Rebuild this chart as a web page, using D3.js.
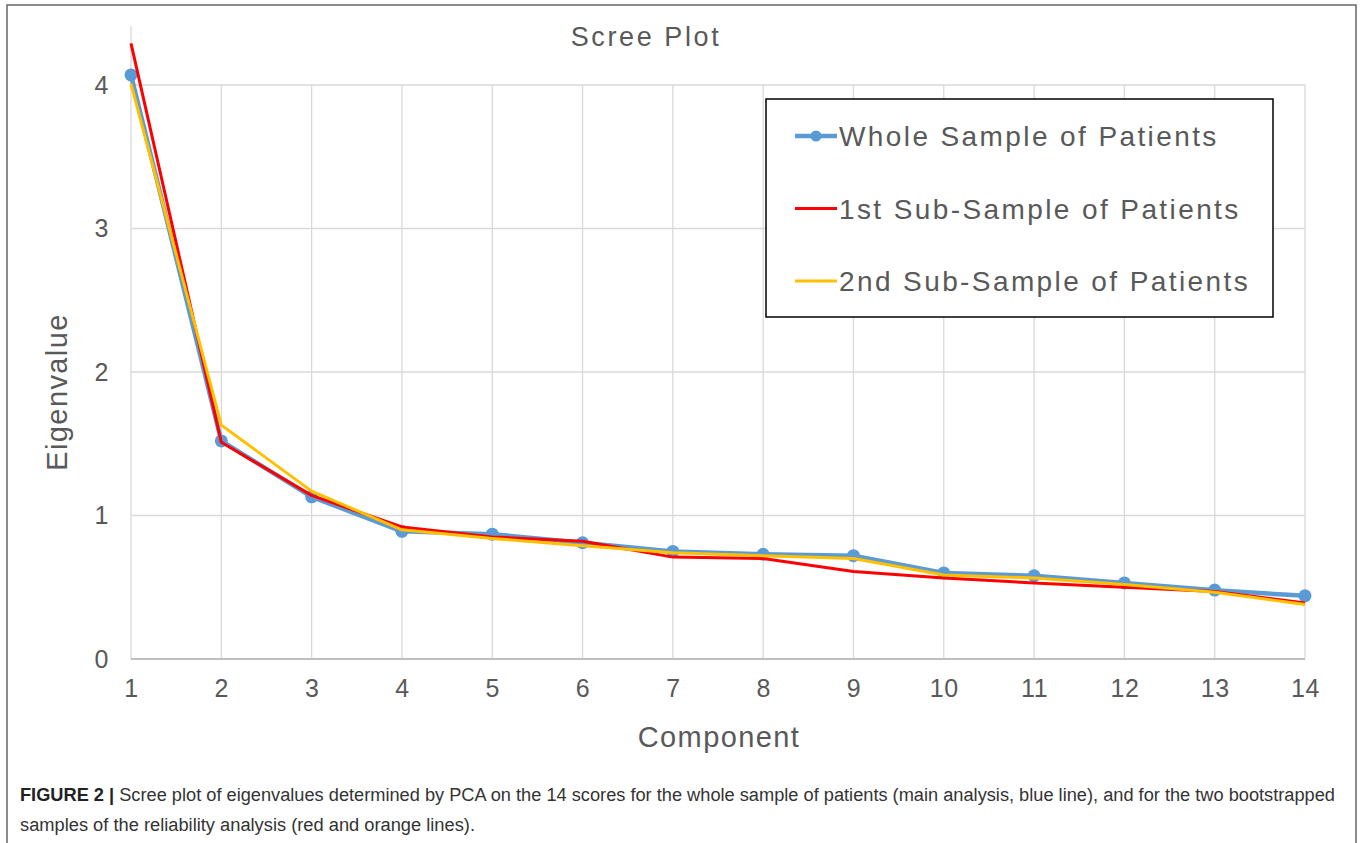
<!DOCTYPE html>
<html>
<head>
<meta charset="utf-8">
<script src="https://cdn.jsdelivr.net/npm/d3@7"></script>
<style>
  body { margin: 0; background: #fff; }
  svg { display: block; font-family: "Liberation Sans", Arial, sans-serif; }
  .grid line { stroke: #d9d9d9; stroke-width: 1.3; }
  .tick text { fill: #595959; font-size: 25px; letter-spacing: 0.5px; }
</style>
</head>
<body>
<script>
// chart values
var components = [1, 2, 3, 4, 5, 6, 7, 8, 9, 10, 11, 12, 13, 14];
var wholeSample = [4.07, 1.52, 1.13, 0.89, 0.87, 0.81, 0.75, 0.73, 0.72, 0.60, 0.58, 0.53, 0.48, 0.44];
var subSample1 = [4.29, 1.51, 1.14, 0.92, 0.85, 0.82, 0.71, 0.70, 0.61, 0.565, 0.53, 0.50, 0.47, 0.39];
var subSample2 = [4.01, 1.63, 1.17, 0.90, 0.84, 0.79, 0.74, 0.72, 0.70, 0.585, 0.565, 0.52, 0.465, 0.38];
var yTicks = [0, 1, 2, 3, 4];
var seriesNames = ['Whole Sample of Patients', '1st Sub-Sample of Patients', '2nd Sub-Sample of Patients'];

var W = 1360, H = 843;
var margin = { top: 85, right: 55, bottom: 184, left: 131 };
var width = W - margin.left - margin.right;
var height = H - margin.top - margin.bottom;

var svg = d3.select('body').append('svg')
  .attr('width', W)
  .attr('height', H);

// outer frame
svg.append('rect')
  .attr('x', 7).attr('y', 5)
  .attr('width', 1349).attr('height', 845)
  .attr('fill', 'none')
  .attr('stroke', '#666')
  .attr('stroke-width', 1.5);

var g = svg.append('g')
  .attr('transform', 'translate(' + margin.left + ',' + margin.top + ')');

var x = d3.scaleLinear().domain([1, 14]).range([0, width]);
var y = d3.scaleLinear().domain([0, 4]).range([height, 0]);

// gridlines
g.append('g').attr('class', 'grid')
  .selectAll('line.h').data(yTicks.slice(1)).enter().append('line')
  .attr('x1', 0).attr('x2', width)
  .attr('y1', function (d) { return y(d); })
  .attr('y2', function (d) { return y(d); });

g.append('g').attr('class', 'grid')
  .selectAll('line.v').data(components.slice(1)).enter().append('line')
  .attr('x1', function (d) { return x(d); })
  .attr('x2', function (d) { return x(d); })
  .attr('y1', 0).attr('y2', height);

// left axis line reaches higher than the top gridline
g.append('line')
  .attr('x1', 0).attr('x2', 0)
  .attr('y1', -59).attr('y2', height)
  .attr('stroke', '#d9d9d9').attr('stroke-width', 1.3);

// bottom axis
g.append('line')
  .attr('x1', 0).attr('x2', width)
  .attr('y1', height).attr('y2', height)
  .attr('stroke', '#bfbfbf').attr('stroke-width', 2);

var xAxis = d3.axisBottom(x).tickValues(components).tickSize(0).tickPadding(20)
  .tickFormat(d3.format('d'));
g.append('g')
  .attr('transform', 'translate(0,' + height + ')')
  .call(xAxis)
  .call(function (s) { s.select('.domain').remove(); });

var yAxis = d3.axisLeft(y).tickValues(yTicks).tickSize(0).tickPadding(22)
  .tickFormat(d3.format('d'));
g.append('g')
  .call(yAxis)
  .call(function (s) { s.select('.domain').remove(); });

// lines
var line = d3.line()
  .x(function (d, i) { return x(components[i]); })
  .y(function (d) { return y(d); });

g.append('path').datum(wholeSample)
  .attr('d', line).attr('fill', 'none')
  .attr('stroke', '#5b9bd5').attr('stroke-width', 4.5)
  .attr('stroke-linejoin', 'round');

g.selectAll('.dot').data(wholeSample).enter().append('circle')
  .attr('class', 'dot')
  .attr('cx', function (d, i) { return x(components[i]); })
  .attr('cy', function (d) { return y(d); })
  .attr('r', 6.5)
  .attr('fill', '#5b9bd5');

g.append('path').datum(subSample1)
  .attr('d', line).attr('fill', 'none')
  .attr('stroke', '#ff0000').attr('stroke-width', 3)
  .attr('stroke-linejoin', 'round');

g.append('path').datum(subSample2)
  .attr('d', line).attr('fill', 'none')
  .attr('stroke', '#ffc000').attr('stroke-width', 3)
  .attr('stroke-linejoin', 'round');

// titles
svg.append('text')
  .attr('x', 646).attr('y', 46)
  .attr('text-anchor', 'middle')
  .attr('fill', '#595959')
  .style('font-size', '27px')
  .style('letter-spacing', '2.6px')
  .text('Scree Plot');

svg.append('text')
  .attr('x', 719).attr('y', 747)
  .attr('text-anchor', 'middle')
  .attr('fill', '#595959')
  .style('font-size', '29px')
  .style('letter-spacing', '1.4px')
  .text('Component');

svg.append('text')
  .attr('transform', 'translate(67,' + 392 + ') rotate(-90)')
  .attr('text-anchor', 'middle')
  .attr('fill', '#595959')
  .style('font-size', '29px')
  .style('letter-spacing', '1.4px')
  .text('Eigenvalue');

// legend
var legend = svg.append('g').attr('transform', 'translate(766,99)');
legend.append('rect')
  .attr('width', 507).attr('height', 218)
  .attr('fill', '#fff')
  .attr('stroke', '#000').attr('stroke-width', 1.5);

var legendColors = ['#5b9bd5', '#ff0000', '#ffc000'];
var legendWidths = [4.5, 3, 3];
var item = legend.selectAll('.item').data(seriesNames).enter().append('g')
  .attr('transform', function (d, i) { return 'translate(0,' + (37 + i * 72.5) + ')'; });

item.append('line')
  .attr('x1', 29).attr('x2', 71)
  .attr('stroke', function (d, i) { return legendColors[i]; })
  .attr('stroke-width', function (d, i) { return legendWidths[i]; });

item.filter(function (d, i) { return i === 0; }).append('circle')
  .attr('cx', 50).attr('r', 5.5).attr('fill', '#5b9bd5');

item.append('text')
  .attr('x', 73).attr('y', 10)
  .attr('fill', '#595959')
  .style('font-size', '28px')
  .style('letter-spacing', '2.4px')
  .text(function (d) { return d; });

// caption
var cap = svg.append('g')
  .style('font-family', '"Liberation Sans Narrow", "Liberation Sans", Arial, sans-serif')
  .style('font-size', '18px')
  .attr('fill', '#333');

var t1 = cap.append('text').attr('x', 20).attr('y', 801)
  .attr('textLength', 1315).attr('lengthAdjust', 'spacingAndGlyphs');
t1.append('tspan').style('font-weight', 'bold').attr('fill', '#222').text('FIGURE 2 | ');
t1.append('tspan').text('Scree plot of eigenvalues determined by PCA on the 14 scores for the whole sample of patients (main analysis, blue line), and for the two bootstrapped');

cap.append('text').attr('x', 20).attr('y', 831)
  .attr('textLength', 455).attr('lengthAdjust', 'spacingAndGlyphs')
  .text('samples of the reliability analysis (red and orange lines).');
</script>
</body>
</html>
